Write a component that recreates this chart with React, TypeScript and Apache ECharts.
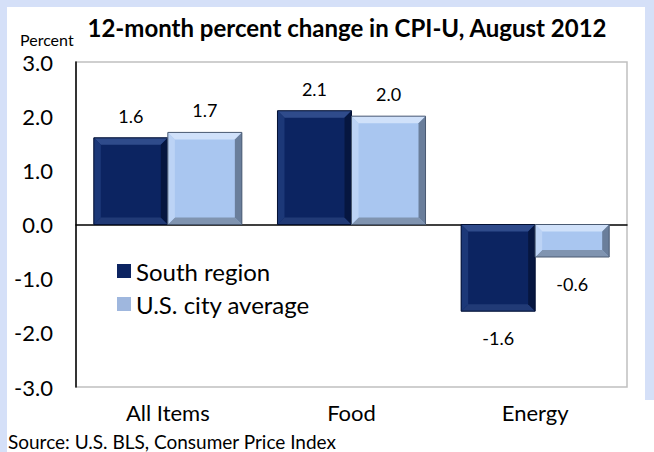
import React, { useEffect, useRef } from "react";
import * as echarts from "echarts";

const categories = ["All Items", "Food", "Energy"];
const southRegion = [1.6, 2.1, -1.6];
const usCityAverage = [1.7, 2.0, -0.6];
const yTicks = [-3, -2, -1, 0, 1, 2, 3];

const FONT = "Lato, 'Open Sans', sans-serif";

const palettes = [
  { face: "#0c2461", top: "#2f4b8b", left: "#1c3878", right: "#061640", bottom: "#213a76", edge: "#031033" },
  { face: "#a9c6f0", top: "#d0e1fa", left: "#bcd3f5", right: "#6a7e9b", bottom: "#8094b0", edge: "#4a5a72" },
];

function renderBevel(params: any, api: any) {
  const cat = api.value(0);
  const val = api.value(1);
  const base = api.coord([cat, 0]);
  const tip = api.coord([cat, val]);
  const bandW = api.size([1, 0])[0];
  const barW = bandW * 0.403;
  const si = params.seriesIndex;
  const p = palettes[si];
  const x0 = base[0] - barW + si * barW;
  const x1 = x0 + barW;
  const y1 = Math.min(base[1], tip[1]);
  const y2 = Math.max(base[1], tip[1]);
  const h = y2 - y1;
  const b = Math.min(7, h / 2, barW / 2);
  const poly = (pts: number[][], fill: string) => ({
    type: "polygon",
    shape: { points: pts },
    style: { fill },
  });
  const labelY = val >= 0 ? y1 - 22 : y2 + 27;
  return {
    type: "group",
    children: [
      { type: "rect", shape: { x: x0, y: y1, width: barW, height: h }, style: { fill: p.face } },
      poly([[x0, y1], [x1, y1], [x1 - b, y1 + b], [x0 + b, y1 + b]], p.top),
      poly([[x0, y2], [x1, y2], [x1 - b, y2 - b], [x0 + b, y2 - b]], p.bottom),
      poly([[x0, y1], [x0 + b, y1 + b], [x0 + b, y2 - b], [x0, y2]], p.left),
      poly([[x1, y1], [x1 - b, y1 + b], [x1 - b, y2 - b], [x1, y2]], p.right),
      { type: "rect", shape: { x: x0, y: y1, width: barW, height: h }, style: { fill: "none", stroke: p.edge, lineWidth: 1 } },
      {
        type: "text",
        x: (x0 + x1) / 2,
        y: labelY,
        style: {
          text: val.toFixed(1),
          fill: "#000",
          font: `18px ${FONT}`,
          textAlign: "center",
          textVerticalAlign: "middle",
        },
      },
    ],
  };
}

export default function App() {
  const ref = useRef<HTMLDivElement>(null);
  useEffect(() => {
    if (!ref.current) return;
    const chart = echarts.init(ref.current, null, { renderer: "svg" });
    const lav = "#d5e0f8";
    chart.setOption({
      animation: false,
      backgroundColor: "#ffffff",
      textStyle: { fontFamily: FONT },
      graphic: [
        { type: "rect", shape: { x: 0, y: 0, width: 7, height: 452 }, style: { fill: lav }, silent: true },
        { type: "rect", shape: { x: 0, y: 0, width: 654, height: 7 }, style: { fill: lav }, silent: true },
        { type: "rect", shape: { x: 645, y: 0, width: 9, height: 400 }, style: { fill: lav }, silent: true },
        {
          type: "text", x: 347, y: 27,
          style: { text: "12-month percent change in CPI-U, August 2012", font: `bold 24px ${FONT}`, fill: "#000", textAlign: "center", textVerticalAlign: "middle" },
        },
        {
          type: "text", x: 20, y: 39,
          style: { text: "Percent", font: `16px ${FONT}`, fill: "#000", textAlign: "left", textVerticalAlign: "middle" },
        },
        {
          type: "text", x: 8, y: 441,
          style: { text: "Source: U.S. BLS, Consumer Price Index", font: `19px ${FONT}`, fill: "#000", textAlign: "left", textVerticalAlign: "middle" },
        },
      ],
      grid: {
        left: 76, right: 27, top: 62, bottom: 65,
        show: true, borderColor: "#c0c0c0", borderWidth: 1.5, backgroundColor: "#fff",
      },
      legend: {
        orient: "vertical",
        left: 112,
        top: 254,
        itemGap: 9,
        itemWidth: 14,
        itemHeight: 14,
        icon: "rect",
        textStyle: { fontSize: 24, color: "#000", fontFamily: FONT },
        data: ["South region", "U.S. city average"],
      },
      xAxis: [
        {
          type: "category",
          data: categories,
          axisLine: { show: false, onZero: false },
          axisTick: { show: false },
          axisLabel: { fontSize: 22, color: "#000", margin: 14, fontFamily: FONT },
        },
        {
          type: "category",
          data: categories,
          axisLine: { show: true, onZero: true, lineStyle: { color: "#000", width: 1.5 } },
          axisTick: { show: false },
          axisLabel: { show: false },
        },
      ],
      yAxis: {
        type: "value",
        min: yTicks[0],
        max: yTicks[yTicks.length - 1],
        interval: 1,
        axisLine: { show: true, lineStyle: { color: "#000", width: 1.5 } },
        axisTick: { show: false },
        splitLine: { show: false },
        axisLabel: {
          fontSize: 22, color: "#000", margin: 23, fontFamily: FONT,
          formatter: (v: number) => v.toFixed(1),
        },
      },
      series: [
        {
          name: "South region",
          type: "custom",
          renderItem: renderBevel,
          itemStyle: { color: "#0c2461" },
          encode: { x: 0, y: 1 },
          data: southRegion.map((v, i) => [i, v]),
        },
        {
          name: "U.S. city average",
          type: "custom",
          renderItem: renderBevel,
          itemStyle: { color: "#9fb7de" },
          encode: { x: 0, y: 1 },
          data: usCityAverage.map((v, i) => [i, v]),
        },
      ],
    });
    return () => chart.dispose();
  }, []);
  return (
    <div style={{ position: "absolute", left: 0, top: 0 }}>
      <div ref={ref} style={{ width: 654, height: 452 }} />
    </div>
  );
}
